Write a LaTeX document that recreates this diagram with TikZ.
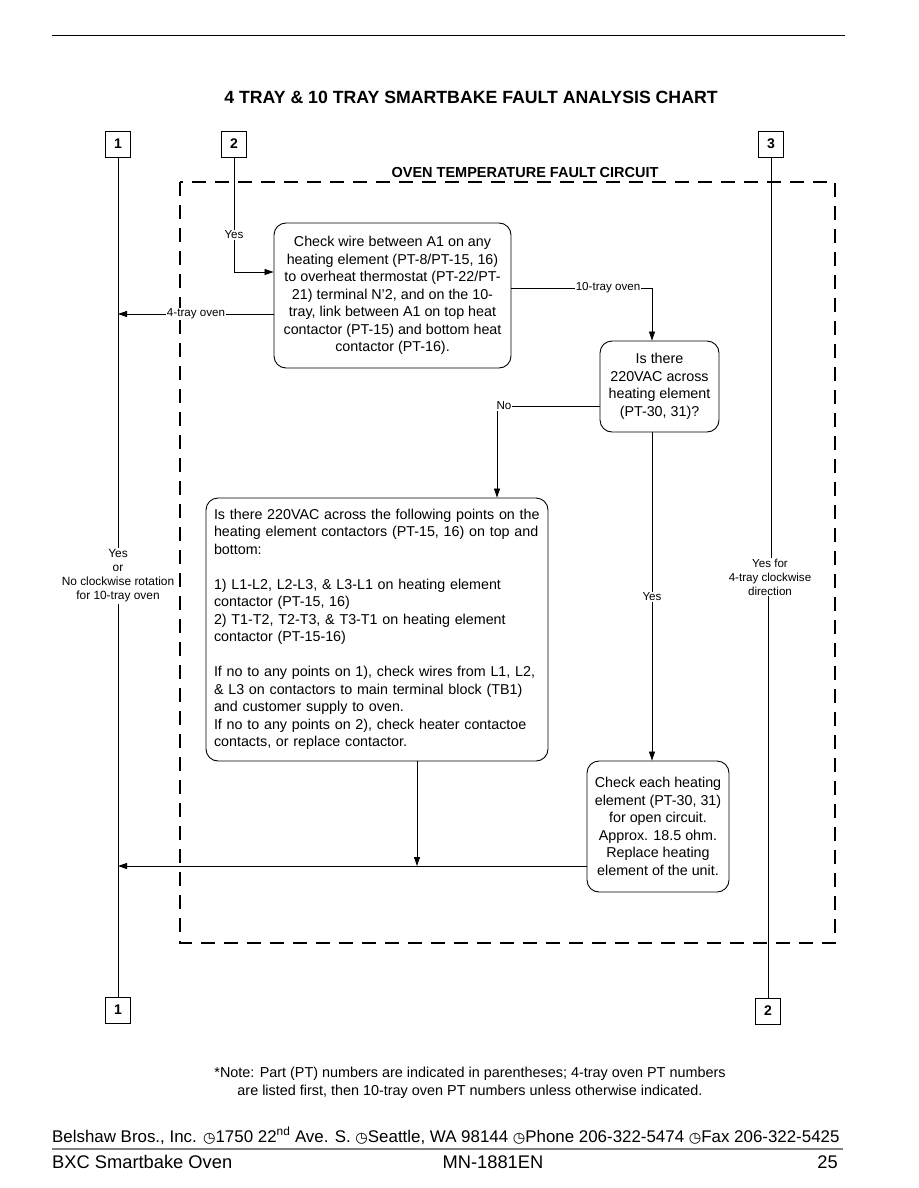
\documentclass[tikz,border=0pt]{standalone}
\usepackage{fontspec}
\setmainfont{Liberation Sans}
\newfontfamily\symfont{DejaVu Sans}
\usetikzlibrary{arrows.meta,calc}
\begin{document}
\begin{tikzpicture}[x=1pt,y=-1pt,
 box/.style={draw,line width=0.9pt,rounded corners=12pt,inner sep=0pt},
 numbox/.style={draw,line width=0.9pt,minimum width=25pt,minimum height=26pt,inner sep=0pt,font=\fontsize{14}{14}\selectfont\bfseries},
 conn/.style={line width=0.8pt},
 arr/.style={conn,-{Triangle[length=9pt,width=6pt]}},
 lab/.style={font=\fontsize{11.6}{14}\selectfont,fill=white,inner sep=1pt,align=center},
 txt/.style={font=\fontsize{14.3}{17.5}\selectfont}]
\useasboundingbox (0,0) rectangle (918,1188);
\fill[white] (0,0) rectangle (918,1188);
\draw[line width=0.8pt] (52,35) -- (845,35);

\node[font=\fontsize{17.7}{20}\selectfont\bfseries] (title) at (471,97) {4 TRAY \& 10 TRAY SMARTBAKE FAULT ANALYSIS CHART};

% numbered connectors
\node[numbox] (n1t) at (118,144) {1};
\node[numbox] (n2t) at (234,144) {2};
\node[numbox] (n3t) at (771,144) {3};
\node[numbox] (n1b) at (118,1010) {1};
\node[numbox] (n2b) at (768,1011) {2};

% dashed frame
\draw[line width=2.6pt,dash pattern=on 14pt off 9pt] (180,182) rectangle (835,943);
\node[font=\fontsize{14.5}{16}\selectfont\bfseries,anchor=base] (frametitle) at (525,177) {OVEN TEMPERATURE FAULT CIRCUIT};

% boxes
\node[box,txt,align=center,minimum width=237pt,minimum height=145pt] (boxA) at (392.5,295.5)
 {Check wire between A1 on any\\heating element (PT-8/PT-15, 16)\\to overheat thermostat (PT-22/PT-\\21) terminal N'2, and on the 10-\\tray, link between A1 on top heat\\contactor (PT-15) and bottom heat\\contactor (PT-16).};
\node[box,txt,align=center,minimum width=119pt,minimum height=91pt] (dec) at (659.5,386.5)
 {Is there\\220VAC across\\heating element\\(PT-30, 31)?};
\node[box,txt,align=left,text width=326pt,minimum height=263pt,inner xsep=8pt] (big) at (377,629.5)
 {Is there 220VAC across the following points on the\\heating element contactors (PT-15, 16) on top and\\bottom:\\[17.5pt]1) L1-L2, L2-L3, \& L3-L1 on heating element\\contactor (PT-15, 16)\\2) T1-T2, T2-T3, \& T3-T1 on heating element\\contactor (PT-15-16)\\[17.5pt]If no to any points on 1), check wires from L1, L2,\\\& L3 on contactors to main terminal block (TB1)\\and customer supply to oven.\\If no to any points on 2), check heater contactoe\\contacts, or replace contactor.};
\node[box,txt,align=center,minimum width=142pt,minimum height=131pt] (last) at (658,826.5)
 {Check each heating\\element (PT-30, 31)\\for open circuit.\\Approx. 18.5 ohm.\\Replace heating\\element of the unit.};

% side lines
\node[lab,font=\fontsize{11.9}{14}\selectfont] (lab1) at (118,576) {Yes\\or\\No clockwise rotation\\for 10-tray oven};
\draw[conn] (n1t) -- (lab1) -- (n1b);
\node[lab] (lab3) at (770,577) {Yes for\\4-tray clockwise\\direction};
\draw[conn] (n3t) -- (n3t |- lab3.north);
\draw[conn] (n2b |- lab3.south) -- (n2b);

% connectors
\coordinate (c2) at (234,272);
\draw[arr] (n2t) -- (c2) -- (c2 -| boxA.west);
\node[lab] (yes2) at (234,235) {Yes};

\coordinate (c4) at (118,314);
\draw[arr] (c4 -| boxA.west) -- (c4);
\node[lab] (lab4) at (196,314) {4-tray oven};

\coordinate (c10) at (652,288);
\draw[arr] (c10 -| boxA.east) -- (c10) -- (c10 |- dec.north);
\node[lab] (lab10) at (608,288) {10-tray oven};

\coordinate (cno) at (497,406);
\draw[arr] (cno -| dec.west) -- (cno) -- (cno |- big.north);
\node[lab] (nolab) at (504,406) {No};

\coordinate (cyes) at (652,600);
\draw[arr] (cyes |- dec.south) -- (cyes |- last.north);
\node[lab] (yeslab) at (652,597) {Yes};

\coordinate (cb) at (417,866);
\draw[arr] (cb |- big.south) -- (cb);
\coordinate (c1b) at (118,866);
\draw[arr] (c1b -| last.west) -- (c1b);

% note
\node[font=\fontsize{14.4}{18}\selectfont,align=center] (note) at (470,1083)
 {*Note: Part (PT) numbers are indicated in parentheses; 4-tray oven PT numbers\\are listed first, then 10-tray oven PT numbers unless otherwise indicated.};

% footer
\node[anchor=base west,font=\fontsize{16.9}{16}\selectfont,inner sep=0pt] (addr) at (52,1142)
 {Belshaw Bros., Inc. {\symfont\fontsize{14.3}{14}\selectfont ◷}1750 22\textsuperscript{nd} Ave. S. {\symfont\fontsize{14.3}{14}\selectfont ◷}Seattle, WA 98144 {\symfont\fontsize{14.3}{14}\selectfont ◷}Phone 206-322-5474 {\symfont\fontsize{14.3}{14}\selectfont ◷}Fax 206-322-5425};
\draw[line width=1.6pt,gray] (52,1149) -- (843,1149);
\node[anchor=base west,font=\fontsize{18.3}{18}\selectfont,inner sep=0pt] (f1) at (52,1168) {BXC Smartbake Oven};
\node[anchor=base,font=\fontsize{18.3}{18}\selectfont,inner sep=0pt] (f2) at (493,1168) {MN-1881EN};
\node[anchor=base east,font=\fontsize{18.3}{18}\selectfont,inner sep=0pt] (f3) at (838,1168) {25};
\end{tikzpicture}
\end{document}
